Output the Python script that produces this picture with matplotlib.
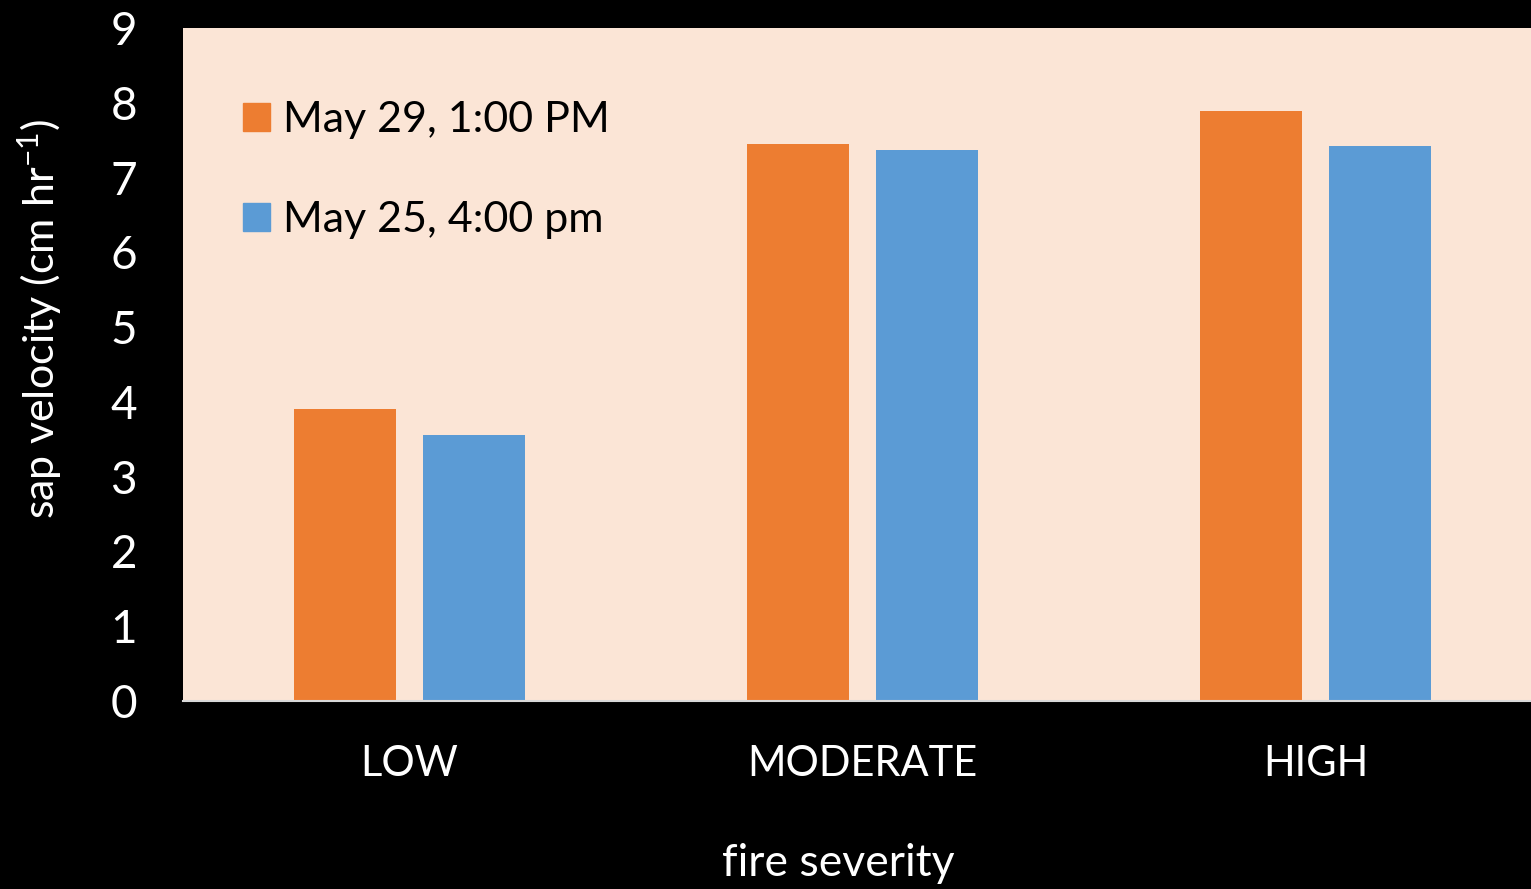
import matplotlib
matplotlib.use('Agg')
import matplotlib.pyplot as plt
from matplotlib.patches import Patch

# data
categories = ['LOW', 'MODERATE', 'HIGH']
may29_1pm = [3.90, 7.45, 7.89]
may25_4pm = [3.56, 7.37, 7.42]
series_labels = ['May 29, 1:00 PM', 'May 25, 4:00 pm']
yticks = list(range(0, 10))

plt.rcParams['font.family'] = ['Lato', 'DejaVu Sans']
plt.rcParams['mathtext.fontset'] = 'custom'
plt.rcParams['mathtext.rm'] = 'Lato'
plt.rcParams['mathtext.it'] = 'Lato'

orange = '#ED7D31'
blue = '#5B9BD5'

fig = plt.figure(figsize=(15.31, 8.89), dpi=100, facecolor='black')
ax = fig.add_axes([183 / 1531, 188 / 889, 1359 / 1531, 673 / 889])
ax.set_facecolor('#FBE5D6')

x = list(range(len(categories)))
w = 0.225
off = 0.142
ax.bar([i - off for i in x], may29_1pm, width=w, color=orange)
ax.bar([i + off for i in x], may25_4pm, width=w, color=blue)

ax.set_xlim(-0.5, 2.5)
ax.set_ylim(0, 9)
ax.set_yticks(yticks)
ax.set_xticks(x)
ax.set_xticklabels(categories)
ax.tick_params(axis='y', length=0, pad=33, labelsize=33, colors='white')
ax.tick_params(axis='x', length=0, pad=32, labelsize=30, colors='white')

for s in ['top', 'right', 'left']:
    ax.spines[s].set_visible(False)
ax.spines['bottom'].set_color('#D9D9D9')
ax.spines['bottom'].set_linewidth(1.5)

fig.text(838 / 1531, 1 - 863 / 889, 'fire severity', color='white', fontsize=32,
         ha='center', va='center')
fig.text(40 / 1531, 1 - 319 / 889, 'sap velocity (cm hr$^{-1}$)', color='white',
         fontsize=31, rotation=90, ha='center', va='center')

handles = [Patch(color=orange), Patch(color=blue)]
ax.legend(handles, series_labels, loc='upper left', bbox_to_anchor=(0.044, 0.8915),
          frameon=False, fontsize=31, handlelength=0.63, handleheight=0.63,
          handletextpad=0.3, labelspacing=1.45, borderaxespad=0, borderpad=0)

fig.savefig('out.png', dpi=100, facecolor='black')
